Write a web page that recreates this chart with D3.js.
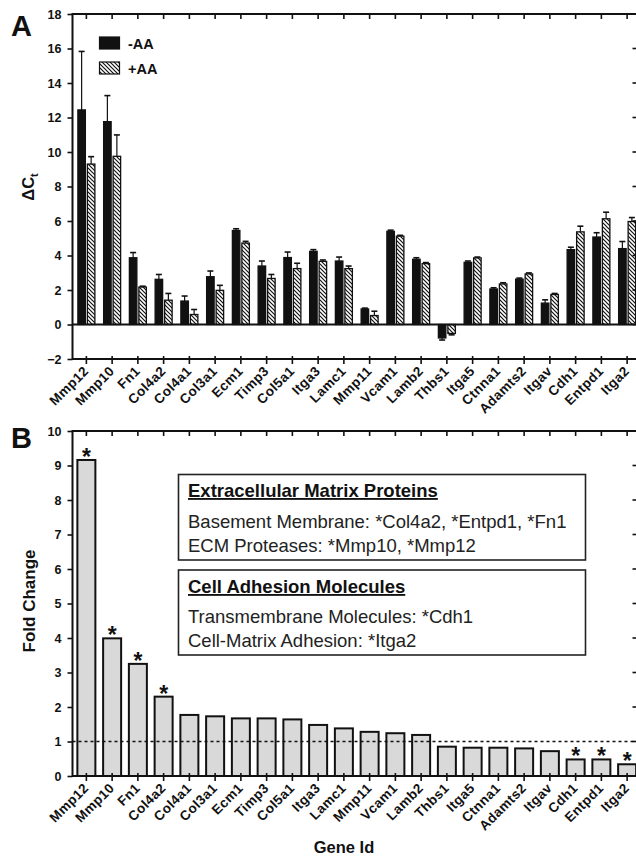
<!DOCTYPE html>
<html>
<head>
<meta charset="utf-8">
<script src="https://cdn.jsdelivr.net/npm/d3@7"></script>
<style>
  body { margin: 0; background: #fff; }
  svg { display: block; font-family: "Liberation Sans", Arial, Helvetica, sans-serif; }
</style>
</head>
<body>
<svg id="chart" width="636" height="859"></svg>
<script>
// ---- data ----
var genes = ["Mmp12", "Mmp10", "Fn1", "Col4a2", "Col4a1", "Col3a1", "Ecm1", "Timp3", "Col5a1", "Itga3", "Lamc1",
  "Mmp11", "Vcam1", "Lamb2", "Thbs1", "Itga5", "Ctnna1", "Adamts2", "Itgav", "Cdh1", "Entpd1", "Itga2"];

// panel A : delta Ct, without / with ascorbic acid
var minusAA    = [12.44, 11.76, 3.87, 2.62, 1.36, 2.77, 5.45, 3.39, 3.88, 4.24, 3.68, 0.90, 5.40, 3.78, -0.78, 3.60, 2.06, 2.63, 1.24, 4.34, 5.07, 4.40];
var minusAAErr = [3.39, 1.51, 0.30, 0.28, 0.29, 0.33, 0.10, 0.29, 0.32, 0.10, 0.23, 0.05, 0.07, 0.09, 0.12, 0.08, 0.07, 0.06, 0.19, 0.14, 0.25, 0.41];
var plusAA     = [9.30, 9.75, 2.17, 1.41, 0.58, 1.98, 4.72, 2.67, 3.24, 3.66, 3.24, 0.52, 5.12, 3.53, -0.52, 3.86, 2.35, 2.93, 1.74, 5.37, 6.13, 5.97];
var plusAAErr  = [0.43, 1.24, 0.05, 0.39, 0.29, 0.29, 0.10, 0.23, 0.31, 0.08, 0.15, 0.25, 0.05, 0.06, 0.08, 0.05, 0.07, 0.06, 0.06, 0.33, 0.38, 0.23];
var seriesNames = ["-AA", "+AA"];
var yTicksA = [-2, 0, 2, 4, 6, 8, 10, 12, 14, 16, 18];

// panel B : fold change
var foldChange = [9.16, 3.99, 3.25, 2.30, 1.77, 1.73, 1.67, 1.67, 1.64, 1.48, 1.38, 1.28, 1.24, 1.19, 0.85, 0.82, 0.82, 0.80, 0.72, 0.48, 0.48, 0.34];
var significant = ["Mmp12", "Mmp10", "Fn1", "Col4a2", "Cdh1", "Entpd1", "Itga2"];
var yTicksB = [0, 1, 2, 3, 4, 5, 6, 7, 8, 9, 10];

var box1Title = "Extracellular Matrix Proteins";
var box1Lines = ["Basement Membrane: *Col4a2, *Entpd1, *Fn1", "ECM Proteases: *Mmp10, *Mmp12"];
var box2Title = "Cell Adhesion Molecules";
var box2Lines = ["Transmembrane Molecules: *Cdh1", "Cell-Matrix Adhesion: *Itga2"];

// ---- layout ----
var svg = d3.select("#chart");
var left = 72.5, right = 637.5;
var ink = "#111";

var x = d3.scaleBand().domain(genes).range([73.5, 640]);
function cx(g) { return x(g) + x.bandwidth() / 2; }

var defs = svg.append("defs");
var pat = defs.append("pattern")
  .attr("id", "hatch")
  .attr("patternUnits", "userSpaceOnUse")
  .attr("width", 4).attr("height", 4);
pat.append("rect").attr("width", 4).attr("height", 4).attr("fill", "#fff");
pat.append("path")
  .attr("d", "M-1,-1 L5,5 M-1,3 L1,5 M3,-1 L5,1")
  .attr("stroke", ink).attr("stroke-width", 1.2);

// draws the box frame + ticks shared by both panels
function frame(y, ticks, top, bottom, zeroLine) {
  var g = svg.append("g");
  // left axis with outward ticks
  g.append("g")
    .attr("transform", "translate(" + left + ",0)")
    .call(d3.axisLeft(y).tickValues(ticks).tickSize(5).tickPadding(6).tickFormat(d3.format("d")))
    .call(function (a) {
      a.select(".domain").remove();
      a.selectAll("line").attr("stroke", ink).attr("stroke-width", 1.6);
      a.selectAll("text").attr("font-size", "12.5px").attr("font-weight", "bold").attr("fill", ink);
    });
  // right inward ticks
  g.selectAll(".rt").data(ticks).enter().append("line")
    .attr("x1", right - 5).attr("x2", right)
    .attr("y1", function (d) { return y(d); }).attr("y2", function (d) { return y(d); })
    .attr("stroke", ink).attr("stroke-width", 1.6);
  // top inward ticks and bottom crossing ticks at category centres
  g.selectAll(".tt").data(genes).enter().append("line")
    .attr("x1", cx).attr("x2", cx)
    .attr("y1", top).attr("y2", top + 5)
    .attr("stroke", ink).attr("stroke-width", 1.6);
  g.selectAll(".bt").data(genes).enter().append("line")
    .attr("x1", cx).attr("x2", cx)
    .attr("y1", bottom - 3).attr("y2", bottom + 5)
    .attr("stroke", ink).attr("stroke-width", 1.6);
  g.append("path")
    .attr("d", "M" + left + "," + bottom + "V" + top + "H" + right + "V" + bottom + "Z")
    .attr("fill", "none").attr("stroke", ink).attr("stroke-width", 2);
  if (zeroLine !== undefined) {
    g.append("line").attr("x1", left).attr("x2", right)
      .attr("y1", zeroLine).attr("y2", zeroLine)
      .attr("stroke", ink).attr("stroke-width", 2);
  }
  // rotated gene labels
  g.selectAll(".xl").data(genes).enter().append("text")
    .attr("transform", function (d) { return "translate(" + (cx(d) + 3) + "," + (bottom + 13) + ") rotate(-45)"; })
    .attr("text-anchor", "end")
    .attr("font-size", "13.5px").attr("font-weight", "bold").attr("fill", ink)
    .attr("letter-spacing", "0.4px")
    .text(function (d) { return d; });
  return g;
}

// =========
// PANEL A
// =========
var yA = d3.scaleLinear().domain([-2, 18]).range([359, 14]);

var barW = 7.5;
var gA = svg.append("g");
genes.forEach(function (g, i) {
  var vals = [minusAA[i], plusAA[i]];
  var errs = [minusAAErr[i], plusAAErr[i]];
  vals.forEach(function (v, k) {
    var bx = k === 0 ? cx(g) - barW - 1 : cx(g) + 1;
    var y0 = yA(0), y1 = yA(v);
    // error bar, away from zero
    var ye = yA(v + (v >= 0 ? errs[k] : -errs[k]));
    gA.append("line").attr("x1", bx + barW / 2).attr("x2", bx + barW / 2)
      .attr("y1", y1).attr("y2", ye).attr("stroke", ink).attr("stroke-width", 1.2);
    gA.append("line").attr("x1", bx + barW / 2 - 3).attr("x2", bx + barW / 2 + 3)
      .attr("y1", ye).attr("y2", ye).attr("stroke", ink).attr("stroke-width", 1.6);
    gA.append("rect")
      .attr("x", bx).attr("width", barW)
      .attr("y", Math.min(y0, y1)).attr("height", Math.abs(y1 - y0))
      .attr("fill", k === 0 ? ink : "url(#hatch)")
      .attr("stroke", ink).attr("stroke-width", 1.3);
  });
});

frame(yA, yTicksA, yA(18), yA(-2), yA(0));

// legend
var legA = svg.append("g");
seriesNames.forEach(function (s, k) {
  var ly = k === 0 ? 37 : 62;
  legA.append("rect").attr("x", 99.5).attr("y", ly).attr("width", 20).attr("height", 12)
    .attr("fill", k === 0 ? ink : "url(#hatch)").attr("stroke", ink).attr("stroke-width", 1.2);
  legA.append("text").attr("x", 128).attr("y", ly + 11.5)
    .attr("font-size", "14.5px").attr("font-weight", "bold").attr("fill", ink).text(s);
});

// y title with subscript
var tA = svg.append("text")
  .attr("transform", "translate(34,187) rotate(-90)")
  .attr("text-anchor", "middle")
  .attr("font-size", "16.5px").attr("font-weight", "bold").attr("fill", ink);
tA.append("tspan").text("\u0394C");
tA.append("tspan").attr("font-size", "11px").attr("dy", 4).text("t");

svg.append("text").attr("x", 11).attr("y", 36)
  .attr("font-size", "29px").attr("font-weight", "bold").attr("fill", ink).text("A");

// =========
// PANEL B
// =========
var yB = d3.scaleLinear().domain([0, 10]).range([776, 431]);
var fbW = 18;
var gB = svg.append("g");

gB.selectAll("rect").data(genes).enter().append("rect")
  .attr("x", function (d) { return cx(d) - fbW / 2; })
  .attr("width", fbW)
  .attr("y", function (d, i) { return yB(foldChange[i]); })
  .attr("height", function (d, i) { return yB(0) - yB(foldChange[i]); })
  .attr("fill", "#d9d9d9").attr("stroke", ink).attr("stroke-width", 2);

gB.selectAll(".star").data(genes.filter(function (d) { return significant.indexOf(d) >= 0; }))
  .enter().append("text")
  .attr("x", cx)
  .attr("y", function (d) { return yB(foldChange[genes.indexOf(d)]) + 5; })
  .attr("text-anchor", "middle")
  .attr("font-size", "23px").attr("font-weight", "bold").attr("fill", ink)
  .text("*");

// reference line at fold change = 1
gB.append("line").attr("x1", left).attr("x2", right)
  .attr("y1", yB(1)).attr("y2", yB(1))
  .attr("stroke", ink).attr("stroke-width", 1.4).attr("stroke-dasharray", "3,3");

frame(yB, yTicksB, yB(10), yB(0));

svg.append("text").attr("x", 11).attr("y", 448)
  .attr("font-size", "29px").attr("font-weight", "bold").attr("fill", ink).text("B");

svg.append("text")
  .attr("transform", "translate(35,601) rotate(-90)")
  .attr("text-anchor", "middle")
  .attr("font-size", "17px").attr("font-weight", "bold").attr("fill", ink)
  .text("Fold Change");

svg.append("text").attr("x", 344).attr("y", 853)
  .attr("text-anchor", "middle")
  .attr("font-size", "16.5px").attr("font-weight", "bold").attr("fill", ink)
  .text("Gene Id");

// annotation boxes
function noteBox(y0, y1, title, lines, titleY, lineYs) {
  var g = svg.append("g");
  g.append("rect").attr("x", 178.5).attr("y", y0).attr("width", 407).attr("height", y1 - y0)
    .attr("fill", "#fff").attr("stroke", "#222").attr("stroke-width", 1.6);
  g.append("text").attr("x", 188).attr("y", titleY)
    .attr("font-size", "18.5px").attr("font-weight", "bold").attr("fill", ink)
    .attr("text-decoration", "underline").text(title);
  lines.forEach(function (l, i) {
    g.append("text").attr("x", 188).attr("y", lineYs[i])
      .attr("font-size", "18.5px").attr("fill", "#222").text(l);
  });
}
noteBox(474.5, 560, box1Title, box1Lines, 497, [528, 551.5]);
noteBox(570, 655, box2Title, box2Lines, 593, [623, 647]);
</script>
</body>
</html>
